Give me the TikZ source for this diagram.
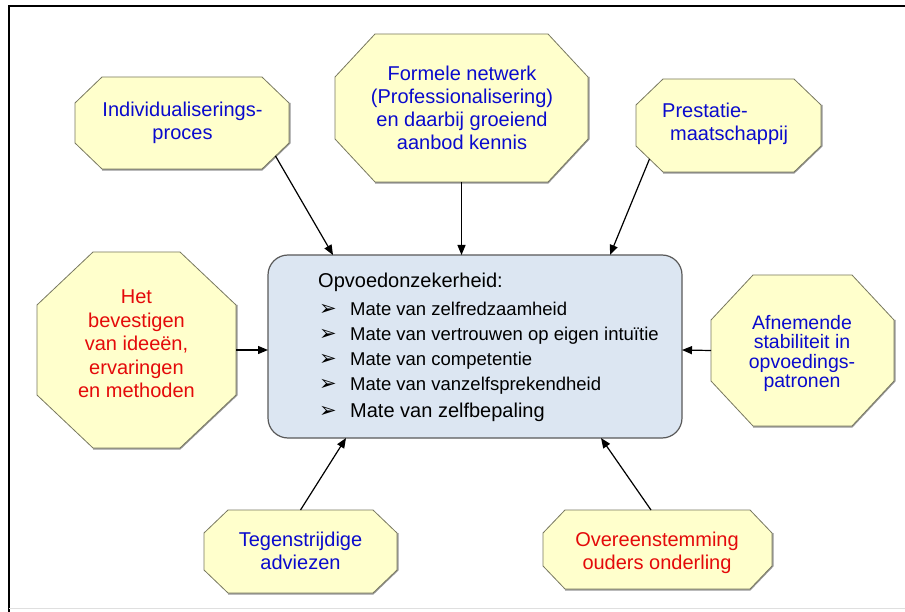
\documentclass[tikz,border=0pt]{standalone}
\usepackage{fontspec}
\setmainfont{Liberation Sans}
\newfontfamily\symfont{DejaVu Sans}
\usetikzlibrary{arrows.meta,calc}
\definecolor{octfill}{RGB}{255,255,204}
\definecolor{octline}{RGB}{120,120,96}
\definecolor{octshadow}{RGB}{150,150,150}
\definecolor{boxfill}{RGB}{220,230,242}
\definecolor{boxline}{RGB}{89,89,89}
\definecolor{txtblue}{RGB}{10,10,205}
\definecolor{txtred}{RGB}{228,10,10}
\newcommand{\tightlines}{\lineskiplimit=-8pt\relax}
% \octa{name}{xmin}{ymin}{xmax}{ymax}{cx}{cy}
\newcommand{\octa}[7]{%
  \draw[octshadow,line width=1.6pt] (#2+#6,#5+0.8) -- (#4-#6,#5+0.8) -- (#4+0.8,#5-#7) -- (#4+0.8,#3+#7);
  \draw[octline,fill=octfill,line width=0.8pt]
    (#2+#6,#3) -- (#4-#6,#3) -- (#4,#3+#7) -- (#4,#5-#7) -- (#4-#6,#5) -- (#2+#6,#5) -- (#2,#5-#7) -- (#2,#3+#7) -- cycle;
  \coordinate (#1-n) at ({(#2+#4)/2},#3);
  \coordinate (#1-s) at ({(#2+#4)/2},#5);
  \coordinate (#1-e) at (#4,{(#3+#5)/2});
  \coordinate (#1-w) at (#2,{(#3+#5)/2});
  \coordinate (#1-se) at (#4-#6/2,#5-#7/2);
  \coordinate (#1-sw) at (#2+#6/2,#5-#7/2);
}
\tikzset{
  octtext/.style={inner sep=0pt,align=center,font=\fontsize{20}{23}\selectfont},
  blue/.style={text=txtblue},
  red/.style={text=txtred},
  arr/.style={draw=black,line width=1.2pt,-{Triangle[length=10pt,width=8pt]}},
  bullet/.style={inner sep=0pt,anchor=base west,font=\symfont\fontsize{21}{21}\selectfont},
  item/.style={inner sep=0pt,anchor=base west,font=\fontsize{18.5}{20}\selectfont}
}
\begin{document}
\begin{tikzpicture}[x=1pt,y=-1pt]
\useasboundingbox (0,0) rectangle (905,612);
% frame
\draw[black,line width=1.5pt] (905,6) -- (9,6) -- (9,612);
\draw[gray!25,line width=1pt] (9,608) -- (905,608);

% central box
\node[draw=boxline,fill=boxfill,line width=1.2pt,rounded corners=20pt,
      minimum width=414pt,minimum height=183pt,inner sep=0pt] (box) at (475,346.5) {};

\node[inner sep=0pt,anchor=base west,font=\fontsize{20}{20}\selectfont] (head) at (318,288) {Opvoedonzekerheid:};
\node[bullet] (bl1) at (319,316) {➢};
\node[bullet] (bl2) at (319,341) {➢};
\node[bullet] (bl3) at (319,366) {➢};
\node[bullet] (bl4) at (319,390) {➢};
\node[bullet] (bl5) at (319,417) {➢};
\node[item] (it1) at (350,316) {Mate van zelfredzaamheid};
\node[item] (it2) at (350,341) {Mate van vertrouwen op eigen intuïtie};
\node[item] (it3) at (350,366) {Mate van competentie};
\node[item] (it4) at (350,390) {Mate van vanzelfsprekendheid};
\node[inner sep=0pt,anchor=base west,font=\fontsize{20}{20}\selectfont] (it5) at (350,417) {Mate van zelfbepaling};

% octagons
\octa{ind}{75}{77}{289}{169}{27}{26}
\node[octtext,blue] (indt) at (182.5,123) {Individualiserings-\\proces};

\octa{for}{335}{34}{588}{182}{40}{43}
\node[octtext,blue] (fort) at (462,107.5) {Formele netwerk\\(Professionalisering)\\en daarbij groeiend\\aanbod kennis};

\octa{pre}{636}{79}{821}{172}{27}{26}
\node[octtext,blue,align=left,anchor=west] (pret) at (662,123.5) {Prestatie-\\\hspace*{8pt}maatschappij};

\octa{het}{37}{252}{236}{448}{56}{53}
\node[octtext,blue,text=txtred,font=\fontsize{20}{23.5}\selectfont] (hett) at (136.5,344) {Het\\bevestigen\\van ideeën,\\ervaringen\\en methoden};

\octa{afn}{711}{275}{894}{426}{42}{45}
\node[octtext,blue,font={\fontsize{19.5}{19.5}\selectfont\tightlines}] (afnt) at (802,353.5) {Afnemende\\stabiliteit in\\opvoedings-\\patronen};

\octa{teg}{204}{510}{397}{593}{24}{23}
\node[octtext,blue] (tegt) at (300.5,551) {Tegenstrijdige\\adviezen};

\octa{ove}{543}{510}{772}{589}{22}{23}
\node[octtext,red] (ovet) at (657,553) {Overeenstemming\\ouders onderling};

% arrow end points on the box
\coordinate (b1) at (333,255);
\coordinate (b2) at (461.5,255);
\coordinate (b3) at (610,255);
\coordinate (b4) at (268,350);
\coordinate (b5) at (682,350);
\coordinate (b6) at (346,438);
\coordinate (b7) at (601,438);
\coordinate (ovs) at (651,510);

\draw[arr] (ind-se) -- (b1);
\draw[arr] (for-s) -- (b2);
\draw[arr] (pre-sw) -- (b3);
\draw[arr] (het-e) -- (b4);
\draw[arr] (afn-w) -- (b5);
\draw[arr] (teg-n) -- (b6);
\draw[arr] (ovs) -- (b7);
\end{tikzpicture}
\end{document}
